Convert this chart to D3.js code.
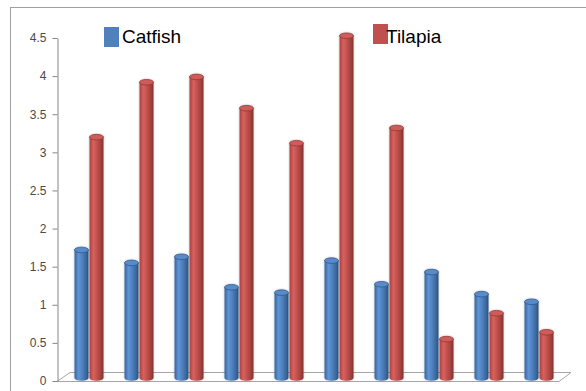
<!DOCTYPE html>
<html>
<head>
<meta charset="utf-8">
<script src="https://cdn.jsdelivr.net/npm/d3@7"></script>
<style>
  html, body { margin: 0; padding: 0; background: #fff; }
  svg { display: block; }
</style>
</head>
<body>
<svg id="chart" width="586" height="391"></svg>
<script>
// Data
const categories = ["1", "2", "3", "4", "5", "6", "7", "8", "9", "10"];
const seriesNames = ["Catfish", "Tilapia"];
const catfish = [1.68, 1.51, 1.59, 1.19, 1.12, 1.54, 1.23, 1.39, 1.10, 1.00];
const tilapia = [3.16, 3.88, 3.95, 3.54, 3.08, 4.49, 3.28, 0.51, 0.85, 0.60];
const tickValues = [0, 0.5, 1, 1.5, 2, 2.5, 3, 3.5, 4, 4.5];

const svg = d3.select("#chart");
const defs = svg.append("defs");

// Outer chart border
svg.append("rect")
  .attr("x", 10.5).attr("y", 7.5)
  .attr("width", 600).attr("height", 400)
  .attr("fill", "#fff").attr("stroke", "#a0a0a0").attr("stroke-width", 1);

// Scales
const y = d3.scaleLinear().domain([0, 4.5]).range([381, 38]);
const x = d3.scaleBand().domain(categories).range([64, 564])
  .paddingInner(0.4).paddingOuter(0.2);
const xs = d3.scaleBand().domain(seriesNames).range([0, x.bandwidth()]);

// 3D depth offset for the bars (mid-depth of the floor)
const depth = 3;

// Floor
const floorFront = 381.5, floorBack = 372.5;
svg.append("path")
  .attr("d", `M57,${floorFront} L559,${floorFront} L571,${floorBack} L70,${floorBack} Z`)
  .attr("fill", "#fff").attr("stroke", "#a6a6a6").attr("stroke-width", 1);

// Axis
const axis = d3.axisLeft(y).tickValues(tickValues).tickSize(5).tickSizeOuter(0)
  .tickFormat(d3.format(""));
const gAxis = svg.append("g").attr("transform", "translate(57.5,0)").call(axis);
gAxis.select(".domain").attr("stroke", "#868686");
gAxis.selectAll(".tick line").attr("stroke", "#868686");
gAxis.selectAll(".tick text")
  .attr("fill", "#4a4a4a")
  .attr("font-family", "Liberation Sans, Arial, sans-serif")
  .attr("font-size", "12px")
  .attr("x", -11);

// Cylinder gradients
const colors = {
  Catfish: ["#36659e", "#5f94d6", "#4f81bd", "#3a6499", "#2d4f7c"],
  Tilapia: ["#a8413e", "#d8615e", "#c0504d", "#9c3e3b", "#7e302e"]
};
const topColors = { Catfish: ["#5a8bc8", "#2f5a90"], Tilapia: ["#cf5c59", "#923a37"] };
seriesNames.forEach((s, i) => {
  const g = defs.append("linearGradient").attr("id", "grad" + i)
    .attr("x1", "0%").attr("x2", "100%").attr("y1", "0%").attr("y2", "0%");
  const st = [0, 0.28, 0.55, 0.85, 1];
  st.forEach((o, k) => g.append("stop").attr("offset", o).attr("stop-color", colors[s][k]));
});
const shadow = defs.append("filter").attr("id", "soft")
  .attr("x", "-30%").attr("y", "-10%").attr("width", "160%").attr("height", "120%");
shadow.append("feDropShadow").attr("dx", 0).attr("dy", 0)
  .attr("stdDeviation", 1).attr("flood-color", "#000").attr("flood-opacity", 0.25);

// Bars as cylinders
const rows = categories.map((c, i) => ({ cat: c, values: [catfish[i], tilapia[i]] }));
const groups = svg.append("g").selectAll("g.grp").data(rows).join("g")
  .attr("class", "grp").attr("transform", d => `translate(${x(d.cat)},0)`);

const ry = 2.8;
groups.selectAll("g.cyl")
  .data(d => d.values.map((v, i) => ({ v, s: seriesNames[i], i })))
  .join("g").attr("class", "cyl").attr("filter", "url(#soft)")
  .each(function(d) {
    const g = d3.select(this);
    const x0 = xs(d.s) + 0.5, w = xs.bandwidth() - 1;
    const cx = x0 + w / 2, rx = w / 2;
    const yb = y(0) - depth, yt = y(d.v) - depth;
    g.append("path")
      .attr("d", `M${x0},${yt} L${x0},${yb} A${rx},${ry} 0 0 0 ${x0 + w},${yb} L${x0 + w},${yt} Z`)
      .attr("fill", `url(#grad${d.i})`);
    g.append("ellipse")
      .attr("cx", cx).attr("cy", yt).attr("rx", rx).attr("ry", ry)
      .attr("fill", topColors[d.s][0]).attr("stroke", topColors[d.s][1]).attr("stroke-width", 0.8);
  });

// Legend
const legend = [
  { name: seriesNames[0], color: "#4f81bd", x: 104, y: 27, tx: 122 },
  { name: seriesNames[1], color: "#c0504d", x: 373, y: 24, tx: 386 }
];
const lg = svg.append("g").selectAll("g").data(legend).join("g");
lg.append("rect").attr("x", d => d.x).attr("y", d => d.y)
  .attr("width", 15).attr("height", 20).attr("fill", d => d.color);
lg.append("text").attr("x", d => d.tx).attr("y", 43)
  .attr("font-family", "Liberation Sans, Arial, sans-serif")
  .attr("font-size", "19px").attr("fill", "#000")
  .text(d => d.name);
</script>
</body>
</html>
